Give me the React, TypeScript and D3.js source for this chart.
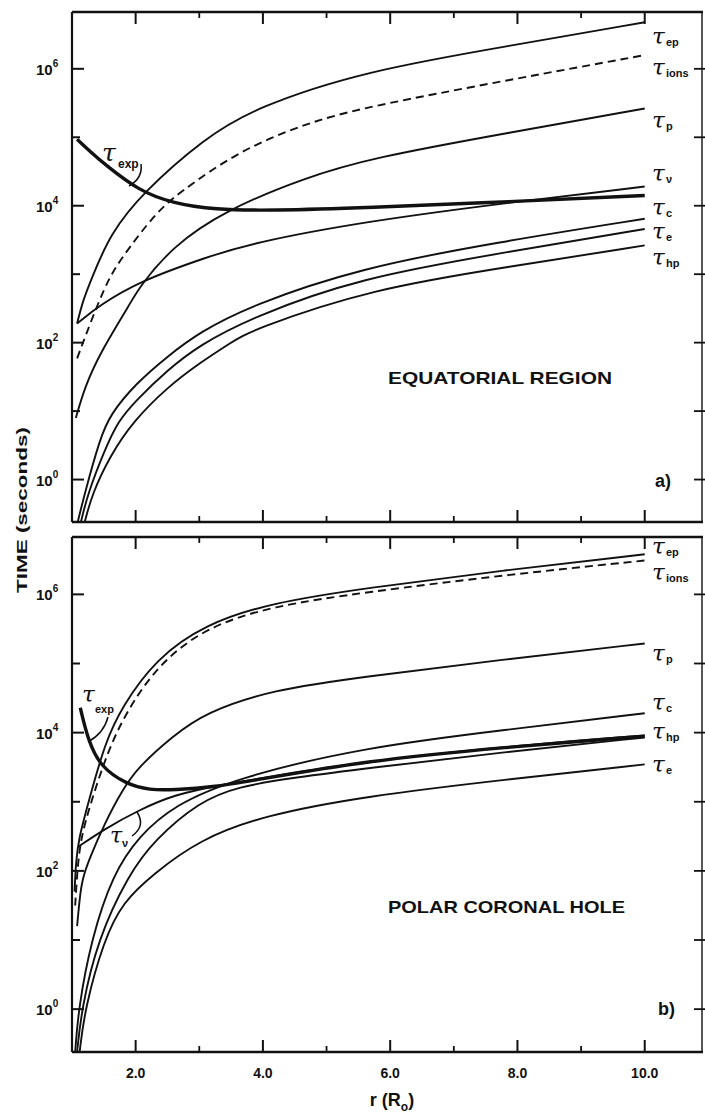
import React from "react";
import * as d3 from "d3";

type Pt = [number, number];

// ---------- axes ----------
const xMajorTicks = [2, 4, 6, 8, 10];
const xMinorTicks = [3, 5, 7, 9];
const xTickLabels = ["2.0", "4.0", "6.0", "8.0", "10.0"];
const yLabelExps = [0, 2, 4, 6];
const yMinorExps = [1, 3, 5];
const yAllExps = [0, 1, 2, 3, 4, 5, 6];
const xDomain: [number, number] = [1, 10.9];
const yDomainExp: [number, number] = [-0.62, 6.83];

// ---------- (a) equatorial region : [r (R0), log10 tau (s)] ----------
const eqEp: Pt[] = [[1.08, 2.28], [1.17, 2.61], [1.3, 2.92], [1.6, 3.59], [2.11, 4.19], [3.09, 4.99], [3.87, 5.43], [5.6, 5.97], [7.9, 6.34], [10, 6.68]];
const eqIons: Pt[] = [[1.08, 1.77], [1.52, 2.86], [1.78, 3.24], [2.3, 3.88], [2.68, 4.19], [3.62, 4.8], [4.66, 5.2], [5.6, 5.44], [7.88, 5.84], [10, 6.2]];
const eqP: Pt[] = [[1.06, 0.9], [1.2, 1.35], [1.44, 1.85], [1.94, 2.61], [2.05, 2.8], [2.57, 3.4], [3.4, 3.93], [4.66, 4.41], [5.71, 4.7], [7.88, 5.07], [10, 5.42]];
const eqNu: Pt[] = [[1.08, 2.28], [1.44, 2.55], [2.07, 2.9], [3.09, 3.24], [3.8, 3.45], [5.6, 3.77], [7.9, 4.05], [10, 4.28]];
const eqExp: Pt[] = [[1.08, 4.97], [1.3, 4.78], [1.52, 4.6], [2.05, 4.22], [2.57, 4.04], [3.24, 3.94], [4.14, 3.93], [5.6, 3.97], [7.9, 4.06], [10, 4.15]];
const eqC: Pt[] = [[1.09, -0.62], [1.2, -0.2], [1.44, 0.6], [1.6, 0.95], [2.0, 1.4], [2.5, 1.8], [3.0, 2.15], [3.8, 2.54], [5.52, 3.09], [7.7, 3.47], [10, 3.81]];
const eqE: Pt[] = [[1.14, -0.62], [1.25, -0.2], [1.5, 0.4], [1.72, 0.85], [2.0, 1.15], [2.5, 1.6], [3.0, 1.96], [3.8, 2.36], [5.52, 2.95], [7.88, 3.33], [10, 3.66]];
const eqHp: Pt[] = [[1.2, -0.62], [1.32, -0.2], [1.6, 0.35], [1.96, 0.85], [2.5, 1.35], [3.0, 1.7], [3.5, 2.0], [3.8, 2.18], [5.72, 2.79], [7.88, 3.11], [10, 3.42]];

// ---------- (b) polar coronal hole ----------
const plEp: Pt[] = [[1.04, 1.7], [1.06, 2.1], [1.1, 2.45], [1.26, 3.0], [1.52, 3.86], [1.79, 4.38], [2.31, 5.06], [3.09, 5.57], [4.14, 5.88], [5.6, 6.09], [7.8, 6.35], [10, 6.58]];
const plIons: Pt[] = [[1.05, 1.5], [1.08, 1.95], [1.13, 2.45], [1.3, 3.0], [1.55, 3.7], [1.85, 4.3], [2.35, 4.98], [3.09, 5.52], [4.14, 5.83], [5.6, 6.03], [7.8, 6.28], [10, 6.49]];
const plP: Pt[] = [[1.08, 1.2], [1.12, 1.6], [1.16, 1.87], [1.26, 2.15], [1.52, 2.7], [1.79, 3.17], [2.05, 3.51], [2.57, 3.94], [3.09, 4.29], [4.14, 4.62], [5.6, 4.81], [7.8, 5.06], [10, 5.29]];
const plNu: Pt[] = [[1.1, 2.35], [1.5, 2.6], [2.05, 2.88], [2.6, 3.1], [3.3, 3.24], [4.5, 3.42], [5.6, 3.58], [7.8, 3.8], [10, 3.96]];
const plExp: Pt[] = [[1.13, 4.36], [1.25, 3.9], [1.44, 3.51], [1.86, 3.25], [2.22, 3.17], [2.59, 3.17], [3.28, 3.22], [3.79, 3.3], [5.6, 3.59], [7.8, 3.79], [10, 3.95]];
const plC: Pt[] = [[1.05, -0.62], [1.1, 0], [1.3, 1.0], [1.64, 1.95], [2.05, 2.5], [2.6, 2.95], [3.6, 3.35], [5.6, 3.79], [7.8, 4.04], [10, 4.28]];
const plHp: Pt[] = [[1.08, -0.62], [1.15, 0], [1.4, 1.0], [1.89, 1.95], [2.3, 2.45], [3.0, 3.0], [3.6, 3.22], [4.5, 3.35], [5.6, 3.48], [7.8, 3.72], [10, 3.93]];
const plE: Pt[] = [[1.12, -0.62], [1.2, 0], [1.5, 1.0], [1.8, 1.55], [2.27, 1.95], [3.0, 2.45], [4.0, 2.8], [5.6, 3.08], [7.8, 3.32], [10, 3.54]];

type Curve = { data: Pt[]; dashed?: boolean; thick?: boolean };
type RLabel = { sub: string; y: number };

const X0 = 72;
const X1 = 702;
const INK = "#111";
const SANS = "'Liberation Sans', Arial, sans-serif";
const TAU = "'DejaVu Serif', serif";

function Tau({ x, y, sub, size = 23, subSize = 11, subDx = 14, subDy = 2 }: { x: number; y: number; sub: string; size?: number; subSize?: number; subDx?: number; subDy?: number }) {
  return (
    <g>
      <text x={x} y={y} fontFamily={TAU} fontStyle="italic" fontSize={size} fill={INK}>τ</text>
      <text x={x + subDx} y={y + subDy} fontFamily={SANS} fontWeight="bold" fontSize={subSize} fill={INK}>{sub}</text>
    </g>
  );
}

function Panel({ top, bottom, curves, labels, id, showXLabels }: { top: number; bottom: number; curves: Curve[]; labels: RLabel[]; id: string; showXLabels: boolean }) {
  const x = d3.scaleLinear().domain(xDomain).range([X0, X1]);
  const y = d3.scaleLog().domain([10 ** yDomainExp[0], 10 ** yDomainExp[1]]).range([bottom, top]);
  const line = d3.line<Pt>().x((d) => x(d[0])).y((d) => y(10 ** d[1])).curve(d3.curveBasis);
  return (
    <g>
      <defs>
        <clipPath id={id}>
          <rect x={X0} y={top} width={X1 - X0} height={bottom - top} />
        </clipPath>
      </defs>
      <g clipPath={`url(#${id})`}>
        {curves.map((c, i) => (
          <path key={i} d={line(c.data) || ""} fill="none" stroke={INK}
            strokeWidth={c.thick ? 3.4 : 1.9}
            strokeDasharray={c.dashed ? "8 5" : undefined}
            strokeLinecap="butt" strokeLinejoin="round" />
        ))}
      </g>
      {/* frame */}
      <line x1={X0} x2={X1 + 1} y1={top} y2={top} stroke={INK} strokeWidth={2.6} />
      <line x1={X0} x2={X1 + 1} y1={bottom} y2={bottom} stroke={INK} strokeWidth={2.4} />
      <line x1={X0} x2={X0} y1={top} y2={bottom} stroke={INK} strokeWidth={2.2} />
      <line x1={X1} x2={X1} y1={top} y2={bottom} stroke={INK} strokeWidth={1.4} />
      {xMajorTicks.map((t) => (
        <g key={"M" + t}>
          <line x1={x(t)} x2={x(t)} y1={top} y2={top + 12} stroke={INK} strokeWidth={2} />
          <line x1={x(t)} x2={x(t)} y1={bottom} y2={bottom - 12} stroke={INK} strokeWidth={2} />
        </g>
      ))}
      {xMinorTicks.map((t) => (
        <g key={"m" + t}>
          <line x1={x(t)} x2={x(t)} y1={top} y2={top + 6} stroke={INK} strokeWidth={1.8} />
          <line x1={x(t)} x2={x(t)} y1={bottom} y2={bottom - 6} stroke={INK} strokeWidth={1.8} />
        </g>
      ))}
      {yLabelExps.map((e) => (
        <g key={"yl" + e}>
          <line x1={X0} x2={X0 + 12} y1={y(10 ** e)} y2={y(10 ** e)} stroke={INK} strokeWidth={2} />
          <text x={36} y={y(10 ** e) + 6} fontFamily={SANS} fontWeight="bold" fontSize={15} fill={INK}>
            10<tspan dy={-8} fontSize={10}>{e}</tspan>
          </text>
        </g>
      ))}
      {yMinorExps.map((e) => (
        <line key={"ym" + e} x1={X0} x2={X0 + 8} y1={y(10 ** e)} y2={y(10 ** e)} stroke={INK} strokeWidth={2} />
      ))}
      {yAllExps.map((e) => (
        <line key={"yr" + e} x1={X1 - 8} x2={X1 + 3} y1={y(10 ** e)} y2={y(10 ** e)} stroke={INK} strokeWidth={1.8} />
      ))}
      {labels.map((l) => (
        <Tau key={l.sub} x={652} y={l.y} sub={l.sub} />
      ))}
      {showXLabels &&
        xMajorTicks.map((t, i) => (
          <text key={"xl" + t} x={x(t)} y={bottom + 26} textAnchor="middle" fontFamily={SANS} fontWeight="bold" fontSize={14} fill={INK}>
            {xTickLabels[i]}
          </text>
        ))}
    </g>
  );
}

const eqCurves: Curve[] = [
  { data: eqEp }, { data: eqIons, dashed: true }, { data: eqP }, { data: eqNu },
  { data: eqExp, thick: true }, { data: eqC }, { data: eqE }, { data: eqHp },
];
const plCurves: Curve[] = [
  { data: plEp }, { data: plIons, dashed: true }, { data: plP }, { data: plNu },
  { data: plExp, thick: true }, { data: plC }, { data: plHp }, { data: plE },
];
const eqLabels: RLabel[] = [
  { sub: "ep", y: 44 }, { sub: "ions", y: 75 }, { sub: "p", y: 128 }, { sub: "ν", y: 181 },
  { sub: "c", y: 215 }, { sub: "e", y: 239 }, { sub: "hp", y: 265 },
];
const plLabels: RLabel[] = [
  { sub: "ep", y: 554 }, { sub: "ions", y: 580 }, { sub: "p", y: 661 }, { sub: "c", y: 710 },
  { sub: "hp", y: 739 }, { sub: "e", y: 772 },
];

export default function App() {
  return (
    <svg width={705} height={1117} viewBox="0 0 705 1117"
      style={{ position: "absolute", left: 0, top: 0, background: "#fff" }}>
      <rect width={705} height={1117} fill="#fff" />
      <Panel top={12} bottom={522} curves={eqCurves} labels={eqLabels} id="clipA" showXLabels={false} />
      <Panel top={537} bottom={1052} curves={plCurves} labels={plLabels} id="clipB" showXLabels={true} />

      {/* tau_exp annotation, panel a */}
      <Tau x={102} y={161} sub="exp" size={25} subSize={12} subDx={16} subDy={7} />
      <path d="M141,164 Q143,178 129,186" fill="none" stroke={INK} strokeWidth={1.5} />
      {/* tau_exp annotation, panel b */}
      <Tau x={82} y={702} sub="exp" size={23} subSize={11} subDx={13} subDy={11} />
      <path d="M108,717 Q104,733 88,742" fill="none" stroke={INK} strokeWidth={1.5} />
      {/* tau_nu annotation, panel b */}
      <Tau x={110} y={843} sub="ν" size={22} subSize={11} subDx={12} subDy={4} />
      <path d="M137,812 Q146,826 132,836" fill="none" stroke={INK} strokeWidth={1.5} />

      <text x={388} y={384} textLength={224} lengthAdjust="spacingAndGlyphs" fontFamily={SANS} fontWeight="bold" fontSize={17} fill={INK}>EQUATORIAL REGION</text>
      <text x={655} y={487} fontFamily={SANS} fontWeight="bold" fontSize={18} fill={INK}>a)</text>
      <text x={388} y={913} textLength={237} lengthAdjust="spacingAndGlyphs" fontFamily={SANS} fontWeight="bold" fontSize={17} fill={INK}>POLAR CORONAL HOLE</text>
      <text x={658} y={1015} fontFamily={SANS} fontWeight="bold" fontSize={18} fill={INK}>b)</text>

      <text transform="translate(27,510) rotate(-90)" textAnchor="middle" textLength={166} lengthAdjust="spacingAndGlyphs"
        fontFamily={SANS} fontWeight="bold" fontSize={15} fill={INK}>TIME (seconds)</text>
      <text x={392} y={1106} textAnchor="middle" fontFamily={SANS} fontWeight="bold" fontSize={18} fill={INK}>
        r (R<tspan dy={5} fontSize={12}>o</tspan><tspan dy={-5}>)</tspan>
      </text>
    </svg>
  );
}
